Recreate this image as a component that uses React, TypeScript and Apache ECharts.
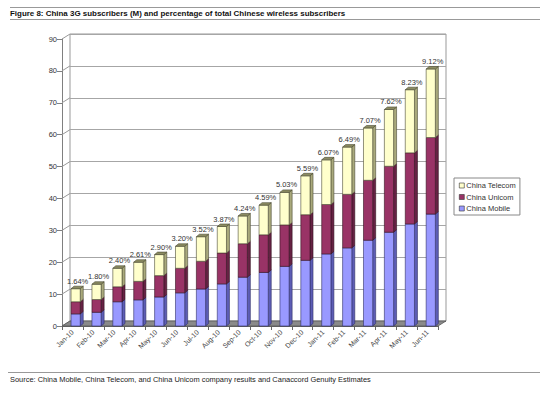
import React, { useEffect, useRef } from "react";
import * as echarts from "echarts";

const categories = ["Jan-10","Feb-10","Mar-10","Apr-10","May-10","Jun-10","Jul-10","Aug-10","Sep-10","Oct-10","Nov-10","Dec-10","Jan-11","Feb-11","Mar-11","Apr-11","May-11","Jun-11"];
const chinaMobile = [3.8, 4.3, 7.6, 8.2, 9.1, 10.4, 11.6, 13.2, 15.3, 16.8, 18.7, 20.6, 22.6, 24.5, 26.9, 29.4, 32.0, 35.1];
const chinaUnicom = [3.8, 4.0, 4.7, 5.8, 6.7, 7.7, 8.7, 9.7, 10.5, 11.8, 13.0, 14.3, 15.5, 16.8, 18.8, 20.7, 22.3, 24.0];
const chinaTelecom = [4.1, 4.8, 5.8, 6.0, 6.6, 6.9, 7.7, 8.3, 8.7, 9.3, 10.2, 12.2, 14.0, 14.8, 16.4, 17.8, 19.8, 21.5];
const pctLabels = ["1.64%","1.80%","2.40%","2.61%","2.90%","3.20%","3.52%","3.87%","4.24%","4.59%","5.03%","5.59%","6.07%","6.49%","7.07%","7.62%","8.23%","9.12%"];
const yTickValues = [0, 10, 20, 30, 40, 50, 60, 70, 80, 90];

const FONT = "'Liberation Sans', Arial, Helvetica, sans-serif";
const DEPTH_X = 8;
const DEPTH_Y = -5;

const palette = {
  mobile: { front: "#9999ff", side: "#5d5db5", top: "#7b7bd0", line: "#2f2f66" },
  unicom: { front: "#993366", side: "#662244", top: "#7a2950", line: "#33111f" },
  telecom: { front: "#ffffcc", side: "#a9a97c", top: "#8c8c62", line: "#4a4a33" },
};

function makeBarRender(colors: { front: string; side: string; top: string; line: string }, isTop: boolean) {
  return (params: any, api: any) => {
    const i = api.value(0);
    const lo = api.value(1);
    const hi = api.value(2);
    const band = api.size([1, 0])[0];
    const pLo = api.coord([i, lo]);
    const pHi = api.coord([i, hi]);
    const w = band * 0.44;
    const dx = 3;
    const dy = -2.5;
    const cx = pLo[0] + 3.2;
    const x0 = cx - w / 2;
    const x1 = x0 + w;
    const yT = pHi[1];
    const yB = pLo[1];
    const lineStyle = { stroke: colors.line, lineWidth: 0.6 };
    const children: any[] = [
      {
        type: "polygon",
        shape: { points: [[x1, yT], [x1 + dx, yT + dy], [x1 + dx, yB + dy], [x1, yB]] },
        style: { fill: colors.side, ...lineStyle },
      },
      {
        type: "rect",
        shape: { x: x0, y: yT, width: w, height: yB - yT },
        style: { fill: colors.front, ...lineStyle },
      },
    ];
    if (isTop) {
      children.push({
        type: "polygon",
        shape: { points: [[x0, yT], [x0 + dx, yT + dy], [x1 + dx, yT + dy], [x1, yT]] },
        style: { fill: colors.top, ...lineStyle },
      });
      children.push({
        type: "text",
        style: {
          text: pctLabels[params.dataIndex],
          x: cx + 2,
          y: yT - 3.5,
          align: "center",
          verticalAlign: "bottom",
          fill: "#333",
          font: `7.5px ${FONT}`,
        },
      });
    }
    return { type: "group", children };
  };
}

export default function App() {
  const ref = useRef<HTMLDivElement>(null);
  useEffect(() => {
    if (!ref.current) return;
    const chart = echarts.init(ref.current, null, { renderer: "svg" });

    const mobileData = chinaMobile.map((v, i) => [i, 0, v]);
    const unicomData = chinaUnicom.map((v, i) => [i, chinaMobile[i], chinaMobile[i] + v]);
    const telecomData = chinaTelecom.map((v, i) => [
      i,
      chinaMobile[i] + chinaUnicom[i],
      chinaMobile[i] + chinaUnicom[i] + v,
    ]);

    const option: any = {
      animation: false,
      backgroundColor: "#ffffff",
      textStyle: { fontFamily: FONT },
      grid: [
        { left: 62, top: 39, width: 376, height: 287, show: false },
        { left: 62 + DEPTH_X, top: 39 + DEPTH_Y, width: 376, height: 287, show: true, borderColor: "#999999", borderWidth: 1, backgroundColor: "transparent" },
      ],
      xAxis: [
        {
          gridIndex: 0,
          type: "category",
          data: categories,
          boundaryGap: true,
          axisLine: { show: true, lineStyle: { color: "#666", width: 1 } },
          axisTick: { show: true, length: 4, lineStyle: { color: "#666" } },
          axisLabel: { rotate: 45, fontSize: 7, color: "#444", margin: 5, fontFamily: FONT, interval: 0 },
          splitLine: { show: false },
        },
        {
          gridIndex: 1,
          type: "category",
          data: categories,
          show: false,
        },
      ],
      yAxis: [
        {
          gridIndex: 0,
          type: "value",
          min: 0,
          max: 90,
          interval: 10,
          axisLine: { show: true, lineStyle: { color: "#808080" } },
          axisTick: { show: true, length: 5, lineStyle: { color: "#808080" } },
          axisLabel: { fontSize: 7.5, color: "#333", margin: 5, fontFamily: FONT },
          splitLine: { show: false },
        },
        {
          gridIndex: 1,
          type: "value",
          min: 0,
          max: 90,
          interval: 10,
          axisLine: { show: false },
          axisTick: { show: false },
          axisLabel: { show: false },
          splitLine: { show: true, lineStyle: { color: "#a6a6a6", width: 1 } },
        },
      ],
      legend: {
        orient: "vertical",
        left: 454,
        top: 178,
        width: 65,
        padding: [3, 4, 2, 5],
        itemWidth: 5,
        itemHeight: 5,
        itemGap: 2.5,
        borderColor: "#888",
        borderWidth: 1,
        textStyle: { fontSize: 7.5, color: "#333", fontFamily: FONT, lineHeight: 9, padding: [0, 0, 0, -3] },
        data: [
          { name: "China Telecom", icon: "rect", itemStyle: { color: palette.telecom.front, borderColor: "#333", borderWidth: 0.6 } },
          { name: "China Unicom", icon: "rect", itemStyle: { color: palette.unicom.front, borderColor: "#333", borderWidth: 0.6 } },
          { name: "China Mobile", icon: "rect", itemStyle: { color: palette.mobile.front, borderColor: "#333", borderWidth: 0.6 } },
        ],
      },
      graphic: [
        { type: "line", shape: { x1: 10, y1: 7.5, x2: 540, y2: 7.5 }, style: { stroke: "#999", lineWidth: 1 } },
        { type: "line", shape: { x1: 10, y1: 19.5, x2: 540, y2: 19.5 }, style: { stroke: "#999", lineWidth: 1 } },
        {
          type: "text",
          x: 10,
          y: 13.5,
          style: {
            text: "Figure 8: China 3G subscribers (M) and percentage of total Chinese wireless subscribers",
            font: `bold 7.95px ${FONT}`,
            fill: "#111",
            verticalAlign: "middle",
          },
        },
        { type: "line", shape: { x1: 8, y1: 372.5, x2: 540, y2: 372.5 }, style: { stroke: "#999", lineWidth: 1 } },
        {
          type: "text",
          x: 10,
          y: 379,
          style: {
            text: "Source: China Mobile, China Telecom, and China Unicom company results and Canaccord Genuity Estimates",
            font: `7.45px ${FONT}`,
            fill: "#222",
            verticalAlign: "middle",
          },
        },
      ],
      series: [
        {
          name: "frame",
          type: "custom",
          xAxisIndex: 0,
          yAxisIndex: 0,
          silent: true,
          z: 1,
          data: yTickValues.map((v) => [0, v]),
          encode: { x: 0, y: 1 },
          renderItem: (params: any, api: any) => {
            const v = api.value(1);
            const band = api.size([1, 0])[0];
            const p = api.coord([0, v]);
            const xl = p[0] - band / 2;
            const children: any[] = [
              {
                type: "line",
                shape: { x1: xl, y1: p[1], x2: xl + DEPTH_X, y2: p[1] + DEPTH_Y },
                style: { stroke: "#999", lineWidth: 1 },
              },
            ];
            if (v === 0) {
              const pr = api.coord([categories.length - 1, 0]);
              const xr = pr[0] + band / 2;
              children.push({
                type: "polygon",
                shape: { points: [[xl, p[1]], [xr, p[1]], [xr + DEPTH_X, p[1] + DEPTH_Y], [xl + DEPTH_X, p[1] + DEPTH_Y]] },
                style: { fill: "#8a8a8a", stroke: "#555", lineWidth: 0.8 },
              });
            }
            return { type: "group", children };
          },
        },
        {
          name: "China Mobile",
          type: "custom",
          xAxisIndex: 0,
          yAxisIndex: 0,
          z: 3,
          itemStyle: { color: palette.mobile.front },
          data: mobileData,
          encode: { x: 0, y: [1, 2] },
          renderItem: makeBarRender(palette.mobile, false),
        },
        {
          name: "China Unicom",
          type: "custom",
          xAxisIndex: 0,
          yAxisIndex: 0,
          z: 3,
          itemStyle: { color: palette.unicom.front },
          data: unicomData,
          encode: { x: 0, y: [1, 2] },
          renderItem: makeBarRender(palette.unicom, false),
        },
        {
          name: "China Telecom",
          type: "custom",
          xAxisIndex: 0,
          yAxisIndex: 0,
          z: 3,
          itemStyle: { color: palette.telecom.front },
          data: telecomData,
          encode: { x: 0, y: [1, 2] },
          renderItem: makeBarRender(palette.telecom, true),
        },
      ],
    };
    chart.setOption(option);
    return () => chart.dispose();
  }, []);

  return (
    <div
      ref={ref}
      style={{ position: "absolute", left: 0, top: 0, width: 540, height: 396, background: "#fff" }}
    />
  );
}
